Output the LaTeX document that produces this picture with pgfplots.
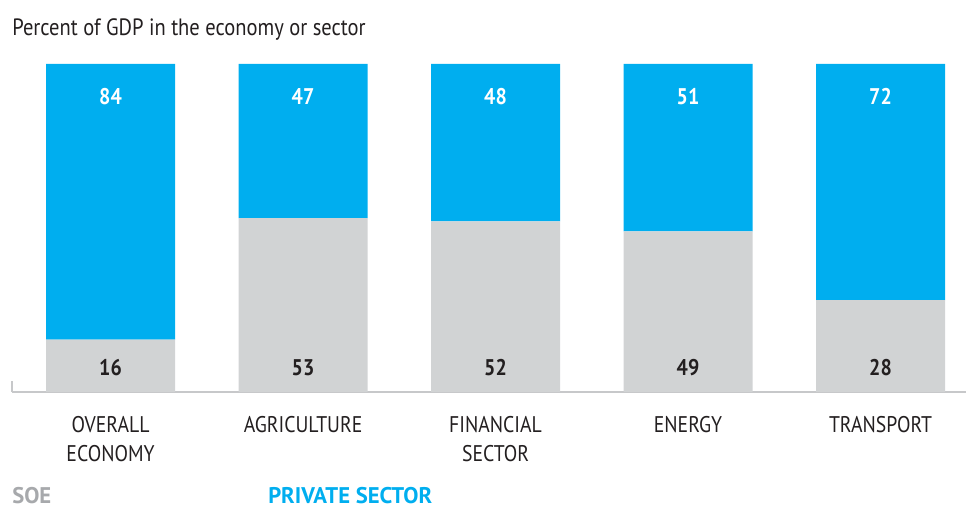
\documentclass[border=0pt]{standalone}
\usepackage{pgfplots}
\pgfplotsset{compat=1.18}
\usepackage{fontspec}
\setmainfont{PT Sans}[FakeStretch=0.87, BoldFeatures={FakeStretch=0.88}]
\newfontfamily\legfont{PT Sans}
\definecolor{pblue}{HTML}{00AEEF}
\definecolor{sgray}{HTML}{D1D3D4}
\definecolor{dtext}{HTML}{231F20}
\definecolor{lgray}{HTML}{A7A9AC}
\definecolor{aline}{HTML}{C7C8CA}
\tikzset{vlab/.style={font=\bfseries\fontsize{17}{20}\selectfont, text=dtext},
         wlab/.style={font=\bfseries\fontsize{17}{20}\selectfont, text=white}}
\begin{document}
\begin{tikzpicture}
\useasboundingbox (0,0) rectangle (724.5pt,381.75pt);
\begin{axis}[
  at={(9pt,87.75pt)}, anchor=south west,
  scale only axis, width=715.5pt, height=246pt,
  ybar stacked, bar width=96.75pt,
  xmin=-0.512, xmax=4.444, ymin=0, ymax=100,
  axis y line=none, axis x line*=bottom,
  axis line style={aline, line width=1pt},
  xtick={0,1,2,3,4},
  xticklabels={{OVERALL\\ECONOMY}, {AGRICULTURE}, {FINANCIAL\\SECTOR}, {ENERGY}, {TRANSPORT}},
  xticklabel style={align=center, font=\fontsize{17}{21.75}\selectfont, text=dtext, anchor=north, yshift=-15pt},
  major tick length=0pt,
  clip=false,
]
\addplot[fill=sgray, draw=none] coordinates {(0,16) (1,53) (2,52) (3,49) (4,28)};
\addplot[fill=pblue, draw=none] coordinates {(0,84) (1,47) (2,48) (3,51) (4,72)};
\draw[aline, line width=1pt] (axis cs:-0.512,0) -- (axis cs:-0.512,3.2);
\coordinate (g0) at (axis cs:0,7.3);
\coordinate (g1) at (axis cs:1,7.3);
\coordinate (g2) at (axis cs:2,7.3);
\coordinate (g3) at (axis cs:3,7.3);
\coordinate (g4) at (axis cs:4,7.3);
\coordinate (b0) at (axis cs:0,90.2);
\coordinate (b1) at (axis cs:1,90.2);
\coordinate (b2) at (axis cs:2,90.2);
\coordinate (b3) at (axis cs:3,90.2);
\coordinate (b4) at (axis cs:4,90.2);
\end{axis}
\node[vlab] at (g0) {16};
\node[vlab] at (g1) {53};
\node[vlab] at (g2) {52};
\node[vlab] at (g3) {49};
\node[vlab] at (g4) {28};
\node[wlab] at (b0) {84};
\node[wlab] at (b1) {47};
\node[wlab] at (b2) {48};
\node[wlab] at (b3) {51};
\node[wlab] at (b4) {72};
\node[anchor=west, inner sep=0pt, text=dtext, font=\fontsize{17.7}{20}\selectfont] at (9pt,359.25pt) {Percent of GDP in the economy or sector};
\node[anchor=base west, inner sep=0pt, text=lgray, font=\legfont\bfseries\fontsize{17}{20}\selectfont] at (9pt,3.75pt) {SOE};
\node[anchor=base west, inner sep=0pt, text=pblue, font=\legfont\bfseries\fontsize{17}{20}\selectfont] at (201pt,3.75pt) {PRIVATE SECTOR};
\end{tikzpicture}
\end{document}
